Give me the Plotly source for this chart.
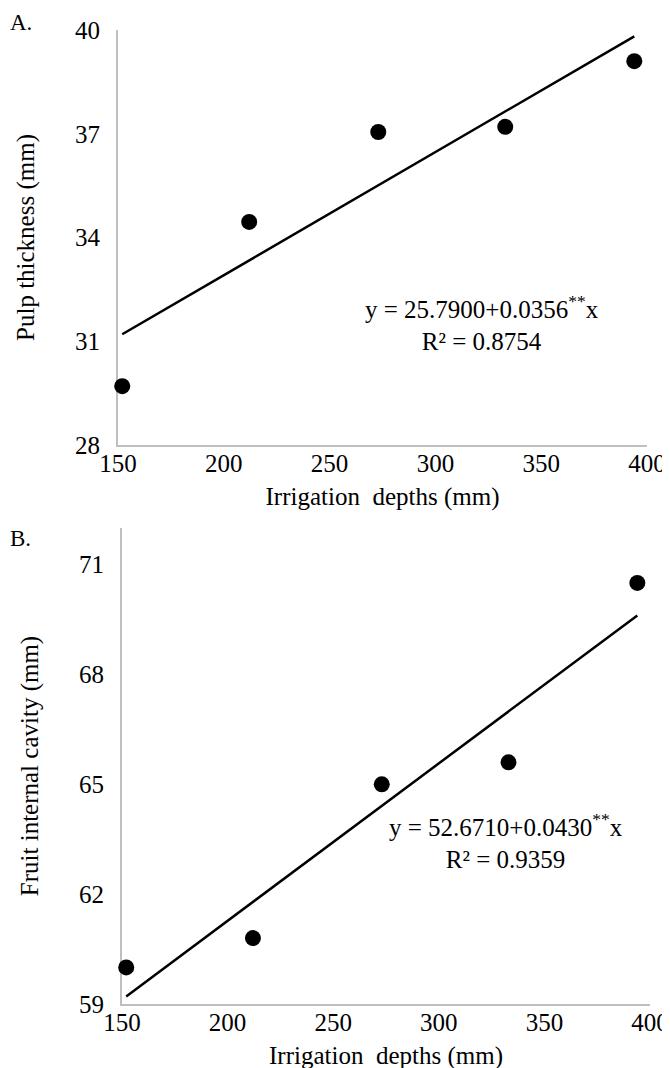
import plotly.graph_objects as go

# ---- data ----
irrigation_depths = [152, 212, 273, 333, 394]
pulp_thickness = [29.7, 34.45, 37.05, 37.2, 39.1]
internal_cavity = [60.0, 60.8, 65.0, 65.6, 70.5]

pulp_intercept, pulp_slope = 25.79, 0.0356
cavity_intercept, cavity_slope = 52.671, 0.0430

x_ticks = [150, 200, 250, 300, 350, 400]
pulp_ticks = [28, 31, 34, 37, 40]
cavity_ticks = [59, 62, 65, 68, 71]

eq_a = "y = 25.7900+0.0356<sup>**</sup>x<br>R\u00b2 = 0.8754"
eq_b = "y = 52.6710+0.0430<sup>**</sup>x<br>R\u00b2 = 0.9359"

W, H = 670, 1068
FONT = "Liberation Serif, Times New Roman, serif"
AXIS_COLOR = "#BFBFBF"
TICK_SIZE = 25
TITLE_SIZE = 25


def line_pts(a, b):
    xs = [min(irrigation_depths), max(irrigation_depths)]
    return xs, [a + b * x for x in xs]


fig = go.Figure()

fig.add_trace(go.Scatter(x=irrigation_depths, y=pulp_thickness, mode="markers",
                         marker=dict(color="black", size=16), cliponaxis=False,
                         xaxis="x", yaxis="y", showlegend=False))
lx, ly = line_pts(pulp_intercept, pulp_slope)
fig.add_trace(go.Scatter(x=lx, y=ly, mode="lines", line=dict(color="black", width=2.5),
                         cliponaxis=False, xaxis="x", yaxis="y", showlegend=False))

fig.add_trace(go.Scatter(x=irrigation_depths, y=internal_cavity, mode="markers",
                         marker=dict(color="black", size=16), cliponaxis=False,
                         xaxis="x2", yaxis="y2", showlegend=False))
lx2, ly2 = line_pts(cavity_intercept, cavity_slope)
fig.add_trace(go.Scatter(x=lx2, y=ly2, mode="lines", line=dict(color="black", width=2.5),
                         cliponaxis=False, xaxis="x2", yaxis="y2", showlegend=False))


def px_x(v):
    return v / W


def px_y(v):
    return 1 - v / H


axis_common = dict(showline=True, linecolor=AXIS_COLOR, linewidth=2, showgrid=False,
                   zeroline=False, ticks="", layer="below traces", automargin=False,
                   tickfont=dict(family=FONT, size=TICK_SIZE, color="black"))

x_standoff = -5
try:
    go.layout.XAxis(ticklabelstandoff=x_standoff)
except Exception:
    x_standoff = 0

fig.update_layout(
    width=W, height=H, margin=dict(l=0, r=0, t=0, b=0, autoexpand=False),
    plot_bgcolor="white", paper_bgcolor="white",
    font=dict(family=FONT, color="black"),
    xaxis=dict(domain=[px_x(110), px_x(639)], range=[150, 400], tickvals=x_ticks,
               anchor="y", ticklabelstandoff=x_standoff,
               title=dict(text="Irrigation\u00a0 depths (mm)",
                          font=dict(family=FONT, size=TITLE_SIZE), standoff=11),
               **axis_common),
    yaxis=dict(domain=[px_y(437), px_y(22)], range=[28, 40], tickvals=pulp_ticks,
               anchor="x", ticklabelstandoff=11,
               title=dict(text="Pulp thickness (mm)",
                          font=dict(family=FONT, size=TITLE_SIZE), standoff=33),
               **axis_common),
    xaxis2=dict(domain=[px_x(114), px_x(642)], range=[150, 400], tickvals=x_ticks,
                anchor="y2", ticklabelstandoff=x_standoff,
                title=dict(text="Irrigation\u00a0 depths (mm)",
                           font=dict(family=FONT, size=TITLE_SIZE), standoff=11),
                **axis_common),
    yaxis2=dict(domain=[px_y(996), px_y(520)], range=[59, 72], tickvals=cavity_ticks,
                anchor="x2", ticklabelstandoff=11,
                title=dict(text="Fruit internal cavity (mm)",
                           font=dict(family=FONT, size=TITLE_SIZE), standoff=33),
                **axis_common),
    annotations=[
        dict(text="A.", x=px_x(0), y=px_y(14), xref="paper", yref="paper",
             xanchor="left", yanchor="middle", showarrow=False,
             font=dict(family=FONT, size=23)),
        dict(text="B.", x=px_x(0), y=px_y(530), xref="paper", yref="paper",
             xanchor="left", yanchor="middle", showarrow=False,
             font=dict(family=FONT, size=23)),
        dict(text=eq_a, x=px_x(474), y=px_y(315), xref="paper", yref="paper",
             xanchor="center", yanchor="middle", showarrow=False, align="center",
             font=dict(family=FONT, size=25)),
        dict(text=eq_b, x=px_x(498), y=px_y(833), xref="paper", yref="paper",
             xanchor="center", yanchor="middle", showarrow=False, align="center",
             font=dict(family=FONT, size=25)),
    ],
)

fig.write_html("out.html")
